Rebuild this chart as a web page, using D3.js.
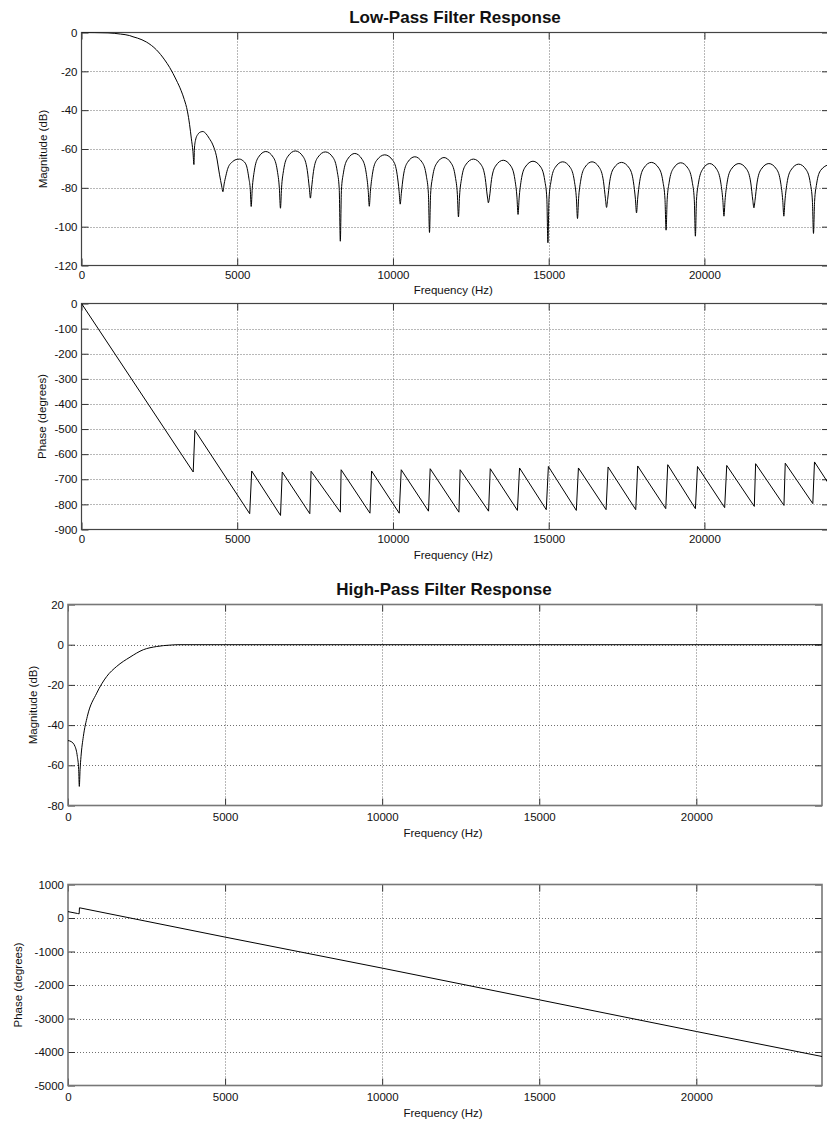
<!DOCTYPE html>
<html>
<head>
<meta charset="utf-8">
<script src="https://cdn.jsdelivr.net/npm/d3@7"></script>
<style>
  html, body { margin: 0; padding: 0; background: #fff; }
  svg { display: block; }
  text { font-family: "Liberation Sans", Arial, sans-serif; fill: #111; }
</style>
</head>
<body>
<svg id="chart" width="827" height="1122"></svg>
<script>
// ---------------- DATA ----------------
const xTicks = [0, 5000, 10000, 15000, 20000];
const lpMagTicks = [0, -20, -40, -60, -80, -100, -120];
const lpPhaseTicks = [0, -100, -200, -300, -400, -500, -600, -700, -800, -900];
const hpMagTicks = [20, 0, -20, -40, -60, -80];
const hpPhaseTicks = [1000, 0, -1000, -2000, -3000, -4000, -5000];

// Low-pass magnitude (Hz, dB)
const lpMagFreq = [
  0, 850, 1250, 1548, 1654, 1800, 2083, 2404, 2670, 2830, 3045, 3200, 3300, 3400, 3471, 3525, 3578, 3610,
  3625, 3660, 3738, 3830, 3898, 3990, 4100, 4218, 4330, 4433, 4500, 4540,
  4580, 4640, 4700, 4860, 5000, 5073, 5180, 5288, 5373, 5420,
  5448, 5483, 5548, 5678, 5918, 6158, 6288, 6353,
  6388, 6423, 6488, 6618, 6868, 7119, 7249, 7314,
  7349, 7384, 7449, 7579, 7830, 8080, 8210, 8275,
  8310, 8345, 8410, 8540, 8775, 9010, 9140, 9205,
  9240, 9275, 9340, 9470, 9737, 10003, 10133, 10198,
  10233, 10268, 10333, 10463, 10703, 10943, 11073, 11138,
  11173, 11208, 11273, 11403, 11638, 11873, 12003, 12068,
  12103, 12138, 12203, 12333, 12583, 12834, 12964, 13029,
  13064, 13099, 13164, 13294, 13540, 13786, 13916, 13981,
  14016, 14051, 14116, 14246, 14496, 14745, 14875, 14940,
  14975, 15010, 15075, 15205, 15450, 15695, 15825, 15890,
  15925, 15960, 16025, 16155, 16392, 16628, 16758, 16823,
  16858, 16893, 16958, 17088, 17339, 17590, 17720, 17785,
  17820, 17855, 17920, 18050, 18295, 18539, 18669, 18734,
  18769, 18804, 18869, 18999, 19240, 19480, 19610, 19675,
  19710, 19745, 19810, 19940, 20169, 20397, 20527, 20592,
  20627, 20662, 20727, 20857, 21108, 21359, 21489, 21554,
  21589, 21624, 21689, 21819, 22070, 22320, 22450, 22515,
  22550, 22585, 22650, 22780, 23026, 23272, 23402, 23467,
  23502, 23537, 23602, 23732, 24000
];
const lpMagDb = [
  0, -0.2, -0.8, -1.6, -2.2, -2.9, -4.9, -8.9, -14.1, -18, -24.5, -30, -34.5, -40.5, -47.5, -54.4, -61.3, -68,
  -60, -55.5, -52.4, -51.2, -51, -52, -54.5, -57.9, -63.5, -73.3, -79, -82,
  -78, -73.5, -69.9, -66.4, -65.3, -65.2, -66, -68.2, -75, -81,
  -89.6, -80.3, -71.3, -64.3, -61.3, -64.3, -71.3, -80.3,
  -90.5, -80, -71, -64, -61, -64, -71, -80,
  -85.3, -80.5, -71.5, -64.5, -61.5, -64.5, -71.5, -80.5,
  -107.5, -81.3, -72.3, -65.3, -62.3, -65.3, -72.3, -81.3,
  -89.5, -82, -73, -66, -63, -66, -73, -82,
  -88.4, -83, -74, -67, -64, -67, -74, -83,
  -103, -83.4, -74.4, -67.4, -64.4, -67.4, -74.4, -83.4,
  -95, -84.2, -75.2, -68.2, -65.2, -68.2, -75.2, -84.2,
  -87.7, -84.8, -75.8, -68.8, -65.8, -68.8, -75.8, -84.8,
  -93.7, -85.3, -76.3, -69.3, -66.3, -69.3, -76.3, -85.3,
  -108.3, -85.6, -76.6, -69.6, -66.6, -69.6, -76.6, -85.6,
  -95.8, -85.6, -76.6, -69.6, -66.6, -69.6, -76.6, -85.6,
  -90.1, -85.9, -76.9, -69.9, -66.9, -69.9, -76.9, -85.9,
  -92.9, -85.9, -76.9, -69.9, -66.9, -69.9, -76.9, -85.9,
  -101.8, -86.1, -77.1, -70.1, -67.1, -70.1, -77.1, -86.1,
  -104.9, -86.5, -77.5, -70.5, -67.5, -70.5, -77.5, -86.5,
  -94.6, -86.5, -77.5, -70.5, -67.5, -70.5, -77.5, -86.5,
  -90.3, -86.5, -77.5, -70.5, -67.5, -70.5, -77.5, -86.5,
  -94.6, -86.8, -77.8, -70.8, -67.8, -70.8, -77.8, -86.8,
  -103.5, -87, -78, -71, -68
];

// Low-pass phase (Hz, degrees)
const lpPhaseFreq = [
  0, 3586, 3641, 5400, 5465, 6390, 6445, 7330, 7372, 8311, 8336, 9262, 9314, 10201, 10266,
  11141, 11195, 12118, 12157, 13070, 13124, 13996, 14064, 14922, 14990, 15887, 15955,
  16843, 16907, 17795, 17858, 18759, 18823, 19711, 19778, 20650, 20717, 21602, 21644,
  22554, 22595, 23480, 23534, 24000
];
const lpPhaseDeg = [
  0, -671, -505, -837, -667, -844, -671, -837, -668, -831, -662, -835, -667, -835, -662,
  -827, -658, -831, -662, -827, -658, -824, -655, -821, -649, -824, -655,
  -821, -651, -821, -647, -817, -642, -817, -649, -813, -645, -808, -638,
  -804, -636, -797, -631, -720
];

// High-pass magnitude (Hz, dB)
const hpMagFreq = [0, 100, 223, 297, 340, 360, 385, 414, 488, 615, 914, 1232, 1550, 1973, 2397, 2823, 3247, 3500, 24000];
const hpMagDb = [-47.7, -48.2, -50.6, -55.6, -62, -70.5, -62, -55.6, -45.7, -35.7, -24.1, -15.8, -10.8, -6.2, -2.5, -0.9, -0.2, 0, 0];

// High-pass phase (Hz, degrees)
const hpPhaseFreq = [0, 300, 355, 365, 5000, 10000, 15000, 20000, 24000];
const hpPhaseDeg = [190, 135, 125, 305, -570, -1496, -2442, -3388, -4134];

// ---------------- DRAWING ----------------
const svg = d3.select("#chart");
svg.append("rect").attr("width", 827).attr("height", 1122).attr("fill", "#fff");

const fmt = d => String(d);

function panel(cfg) {
  const { left, right, top, bottom, yDomain, yTicks, freq, vals, ylabel, ylabelX, tickLabelY, xlabelY, curve,
          frameColor, frameWidth } = cfg;
  const x = d3.scaleLinear().domain([0, 24000]).range([left, right]);
  const y = d3.scaleLinear().domain(yDomain).range([bottom, top]);
  const g = svg.append("g");
  const clipId = "clip" + Math.round(top);
  svg.append("clipPath").attr("id", clipId)
    .append("rect").attr("x", left).attr("y", top).attr("width", right - left).attr("height", bottom - top);

  // grid
  const grid = g.append("g").attr("stroke", "#707070").attr("stroke-width", 1).attr("stroke-dasharray", "1,2");
  grid.selectAll("line.h").data(yTicks.filter(t => t !== yDomain[0] && t !== yDomain[1]))
    .join("line").attr("class", "h")
    .attr("x1", left).attr("x2", right)
    .attr("y1", d => Math.round(y(d)) + 0.5).attr("y2", d => Math.round(y(d)) + 0.5);
  grid.selectAll("line.v").data(xTicks.filter(t => t > 0 && t < 24000))
    .join("line").attr("class", "v")
    .attr("y1", top).attr("y2", bottom)
    .attr("x1", d => Math.round(x(d)) + 0.5).attr("x2", d => Math.round(x(d)) + 0.5);

  // axes (inward ticks)
  const axStyle = sel => {
    sel.select(".domain").remove();
    sel.selectAll(".tick line").attr("stroke", "#333");
    sel.selectAll("text").attr("font-size", "11.5px").attr("fill", "#111")
      .attr("font-family", '"Liberation Sans", Arial, sans-serif');
  };
  g.append("g").attr("transform", `translate(0,${bottom})`)
    .call(d3.axisBottom(x).tickValues(xTicks).tickFormat(fmt).tickSize(-7).tickPadding(0))
    .call(axStyle)
    .call(s => s.selectAll("text").attr("y", null).attr("dy", null)
      .attr("transform", `translate(0,${tickLabelY - bottom})`).attr("dominant-baseline", "central"));
  g.append("g").attr("transform", `translate(0,${top})`)
    .call(d3.axisTop(x).tickValues(xTicks).tickFormat("").tickSize(-7))
    .call(axStyle);
  g.append("g").attr("transform", `translate(${left},0)`)
    .call(d3.axisLeft(y).tickValues(yTicks).tickFormat(fmt).tickSize(-7).tickPadding(4))
    .call(axStyle);
  g.append("g").attr("transform", `translate(${right},0)`)
    .call(d3.axisRight(y).tickValues(yTicks).tickFormat("").tickSize(-7))
    .call(axStyle);

  // frame
  g.append("rect").attr("x", left).attr("y", top).attr("width", right - left).attr("height", bottom - top)
    .attr("fill", "none").attr("stroke", frameColor).attr("stroke-width", frameWidth);

  // curve
  const pts = freq.map((f, i) => [f, vals[i]]);
  g.append("path").datum(pts)
    .attr("clip-path", `url(#${clipId})`)
    .attr("fill", "none").attr("stroke", "#000").attr("stroke-width", 1)
    .attr("d", d3.line().x(d => x(d[0])).y(d => y(d[1])).curve(curve || d3.curveLinear));

  // labels
  svg.append("text").attr("transform", `translate(${ylabelX},${(top + bottom) / 2}) rotate(-90)`)
    .attr("text-anchor", "middle").attr("dominant-baseline", "central")
    .attr("font-size", "11.5px").text(ylabel);
  svg.append("text").attr("x", (left + right) / 2 - 2).attr("y", xlabelY)
    .attr("text-anchor", "middle").attr("dominant-baseline", "central")
    .attr("font-size", "11.5px").text("Frequency (Hz)");
  return { x, y };
}

// titles
svg.append("text").attr("x", 455).attr("y", 17).attr("text-anchor", "middle").attr("dominant-baseline", "central")
  .attr("font-size", "17px").attr("font-weight", "bold").text("Low-Pass Filter Response");
svg.append("text").attr("x", 444).attr("y", 589).attr("text-anchor", "middle").attr("dominant-baseline", "central")
  .attr("font-size", "17px").attr("font-weight", "bold").text("High-Pass Filter Response");

panel({ left: 81.5, right: 829, top: 32.5, bottom: 265.5, yDomain: [-120, 0], yTicks: lpMagTicks,
  freq: lpMagFreq, vals: lpMagDb, ylabel: "Magnitude (dB)", ylabelX: 43, tickLabelY: 275, xlabelY: 290,
  curve: d3.curveMonotoneX, frameColor: "#444", frameWidth: 1.2 });
panel({ left: 81.5, right: 829, top: 303.5, bottom: 529.5, yDomain: [-900, 0], yTicks: lpPhaseTicks,
  freq: lpPhaseFreq, vals: lpPhaseDeg, ylabel: "Phase (degrees)", ylabelX: 42, tickLabelY: 538.5, xlabelY: 555,
  frameColor: "#444", frameWidth: 1.2 });
panel({ left: 68, right: 822, top: 604.5, bottom: 805.5, yDomain: [-80, 20], yTicks: hpMagTicks,
  freq: hpMagFreq, vals: hpMagDb, ylabel: "Magnitude (dB)", ylabelX: 33, tickLabelY: 816.5, xlabelY: 833,
  curve: d3.curveMonotoneX, frameColor: "#777", frameWidth: 1.6 });
panel({ left: 68, right: 822, top: 884.5, bottom: 1085.5, yDomain: [-5000, 1000], yTicks: hpPhaseTicks,
  freq: hpPhaseFreq, vals: hpPhaseDeg, ylabel: "Phase (degrees)", ylabelX: 18, tickLabelY: 1096.5, xlabelY: 1113,
  frameColor: "#777", frameWidth: 1.6 });
</script>
</body>
</html>
